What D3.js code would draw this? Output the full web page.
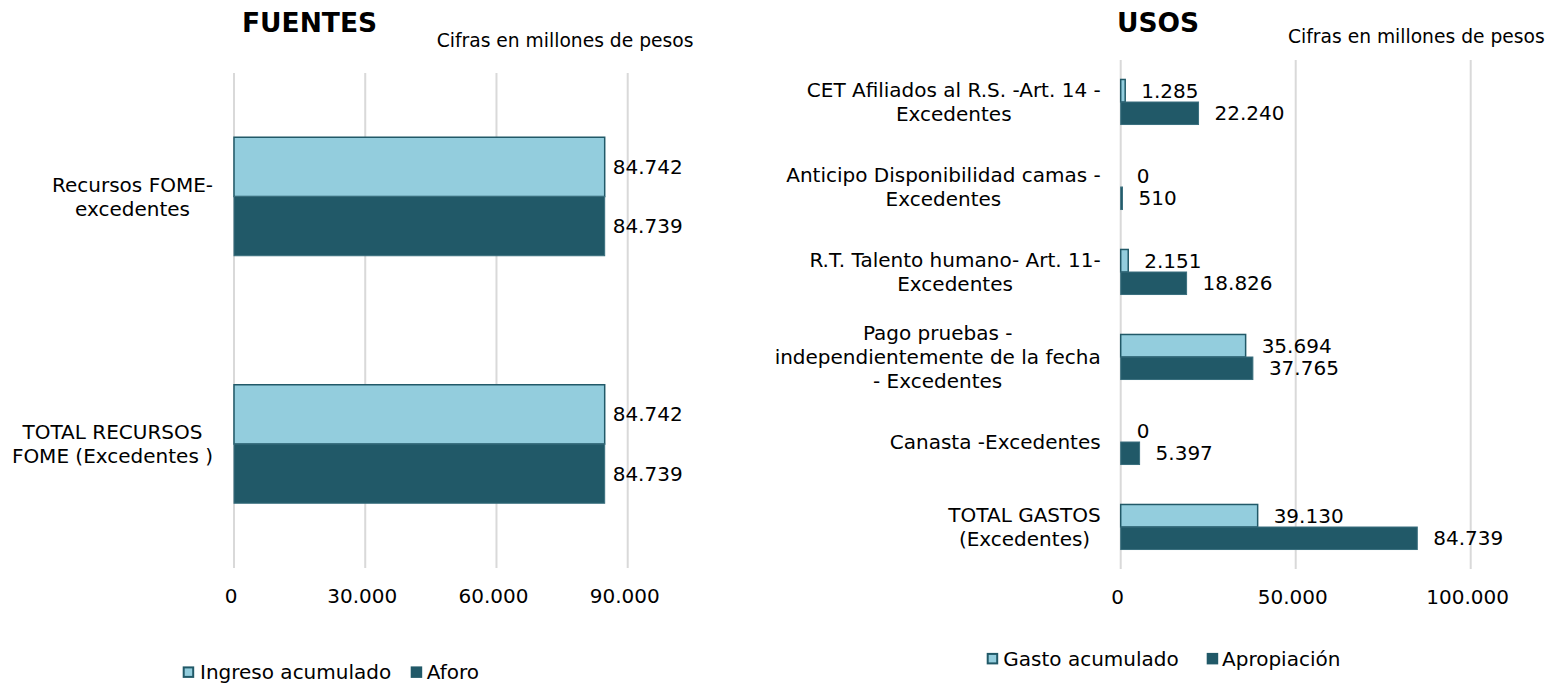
<!DOCTYPE html>
<html>
<head>
<meta charset="utf-8">
<script src="https://cdn.jsdelivr.net/npm/d3@7"></script>
<style>
  html, body { margin: 0; padding: 0; background: #fff; }
  svg { display: block; font-family: "DejaVu Sans", Verdana, sans-serif; }
</style>
</head>
<body>
<svg id="chart" width="1553" height="684"></svg>
<script>
// ---------- DATA ----------
const fuentesCategories = [
  ["Recursos FOME-", "excedentes"],
  ["TOTAL RECURSOS", "FOME (Excedentes )"]
];
const fuentesIngresoAcumulado = [84742, 84742];
const fuentesAforo = [84739, 84739];
const fuentesTicks = [0, 30000, 60000, 90000];

const usosCategories = [
  ["CET Afiliados al R.S. -Art. 14 -", "Excedentes"],
  ["Anticipo Disponibilidad camas -", "Excedentes"],
  ["R.T. Talento humano- Art. 11-", "Excedentes"],
  ["Pago pruebas -", "independientemente de la fecha", "- Excedentes"],
  ["Canasta -Excedentes"],
  ["TOTAL GASTOS", "(Excedentes)"]
];
const usosGastoAcumulado = [1285, 0, 2151, 35694, 0, 39130];
const usosApropiacion = [22240, 510, 18826, 37765, 5397, 84739];
const usosTicks = [0, 50000, 100000];

const seriesNamesFuentes = ["Ingreso acumulado", "Aforo"];
const seriesNamesUsos = ["Gasto acumulado", "Apropiación"];

// ---------- STYLE ----------
const LIGHT = "#93cddd";
const DARK = "#215968";
const GRID = "#d9d9d9";
const TEXT = "#000";

const locale = d3.formatLocale({decimal: ",", thousands: ".", grouping: [3], currency: ["$", ""]});
const fmt = locale.format(",d");

const svg = d3.select("#chart");

function drawChart(cfg) {
  const g = svg.append("g");
  const x = d3.scaleLinear().domain(cfg.domain).range([cfg.x0, cfg.x1]);
  const keys = cfg.categories.map((c, i) => i);
  const y = d3.scaleBand().domain(keys).range([cfg.yTop, cfg.yBottom]).padding(0);
  const bh = y.bandwidth() * cfg.barFrac;

  // gridlines
  g.append("g").selectAll("line").data(cfg.ticks).join("line")
    .attr("x1", d => x(d)).attr("x2", d => x(d))
    .attr("y1", cfg.gridTop).attr("y2", cfg.gridBottom)
    .attr("stroke", GRID).attr("stroke-width", 2);

  // x axis labels
  const xAxis = g.append("g")
    .attr("transform", `translate(0,${cfg.gridBottom})`)
    .call(d3.axisBottom(x).tickValues(cfg.ticks).tickSize(0).tickPadding(21).tickFormat(fmt));
  xAxis.select(".domain").remove();
  xAxis.selectAll("text")
    .attr("font-size", 20).attr("font-family", "DejaVu Sans, Verdana, sans-serif")
    .attr("fill", TEXT).attr("dx", -3.5);

  // category axis
  const yAxis = g.append("g")
    .attr("transform", `translate(${x(0)},0)`)
    .call(d3.axisLeft(y).tickSize(0).tickPadding(21).tickFormat(""));
  yAxis.select(".domain").remove();
  const lh = 24;
  yAxis.selectAll(".tick").each(function(d) {
    const lines = cfg.categories[d];
    const t = d3.select(this).select("text");
    t.attr("font-size", 20).attr("font-family", "DejaVu Sans, Verdana, sans-serif")
      .attr("fill", TEXT).attr("dy", null).attr("text-anchor", "middle");
    const spans = lines.map((ln, i) => t.append("tspan").text(ln)
      .attr("y", (i - (lines.length - 1) / 2) * lh).attr("dy", "0.35em"));
    const maxW = d3.max(spans, s => s.node().getComputedTextLength());
    const cx = -cfg.labelGap - maxW / 2;
    spans.forEach(s => s.attr("x", cx));
    t.attr("x", cx);
  });

  // bars
  const series = [
    {vals: cfg.s1, fill: LIGHT, stroke: DARK, sw: 1.5, off: -bh},
    {vals: cfg.s2, fill: DARK, stroke: "#3a6f7e", sw: 1, off: 0}
  ];
  series.forEach(s => {
    g.append("g").selectAll("rect").data(s.vals).join("rect")
      .attr("x", x(0))
      .attr("y", (d, i) => y(i) + y.bandwidth() / 2 + s.off)
      .attr("width", d => Math.max(0, x(d) - x(0)))
      .attr("height", bh)
      .attr("fill", s.fill)
      .attr("stroke", d => d > 0 ? s.stroke : "none")
      .attr("stroke-width", s.sw);
    g.append("g").selectAll("text").data(s.vals).join("text")
      .attr("x", d => x(d) + cfg.valueGap)
      .attr("y", (d, i) => y(i) + y.bandwidth() / 2 + s.off + bh / 2)
      .attr("dy", "0.35em")
      .attr("font-size", 20).attr("fill", TEXT)
      .text(d => fmt(d));
  });

  // title
  g.append("text").attr("x", cfg.titleX).attr("y", 31.7)
    .attr("text-anchor", "middle").attr("font-weight", "bold")
    .attr("font-size", 26.5).attr("fill", TEXT).text(cfg.title);
  g.append("text").attr("x", cfg.noteX).attr("y", cfg.noteY)
    .attr("font-size", 18.7).attr("fill", TEXT).text("Cifras en millones de pesos");

  // legend
  const leg = g.append("g");
  cfg.legend.forEach((l, i) => {
    leg.append("rect").attr("x", l.sx + 1).attr("y", cfg.legendY - 4.6)
      .attr("width", 9.5).attr("height", 9.5)
      .attr("fill", i === 0 ? LIGHT : DARK)
      .attr("stroke", DARK).attr("stroke-width", 2);
    leg.append("text").attr("x", l.tx).attr("y", cfg.legendY).attr("dy", "0.35em")
      .attr("font-size", 20).attr("fill", TEXT).text(l.name);
  });
}

drawChart({
  categories: fuentesCategories, s1: fuentesIngresoAcumulado, s2: fuentesAforo,
  ticks: fuentesTicks, domain: [0, 90000], x0: 234, x1: 627.7,
  yTop: 72.75, yBottom: 567.75, gridTop: 73, gridBottom: 568, barFrac: 0.2394,
  labelGap: 21, valueGap: 8,
  title: "FUENTES", titleX: 309.5, noteX: 436.7, noteY: 46.7,
  legendY: 672,
  legend: [{name: seriesNamesFuentes[0], sx: 182.7, tx: 200}, {name: seriesNamesFuentes[1], sx: 410.7, tx: 426.7}]
});

drawChart({
  categories: usosCategories, s1: usosGastoAcumulado, s2: usosApropiacion,
  ticks: usosTicks, domain: [0, 100000], x0: 1120.7, x1: 1470.7,
  yTop: 59.5, yBottom: 569.5, gridTop: 60, gridBottom: 569, barFrac: 0.265,
  labelGap: 20, valueGap: 16,
  title: "USOS", titleX: 1158, noteX: 1288, noteY: 43,
  legendY: 658.5,
  legend: [{name: seriesNamesUsos[0], sx: 986.7, tx: 1003.3}, {name: seriesNamesUsos[1], sx: 1206.7, tx: 1222}]
});
</script>
</body>
</html>
